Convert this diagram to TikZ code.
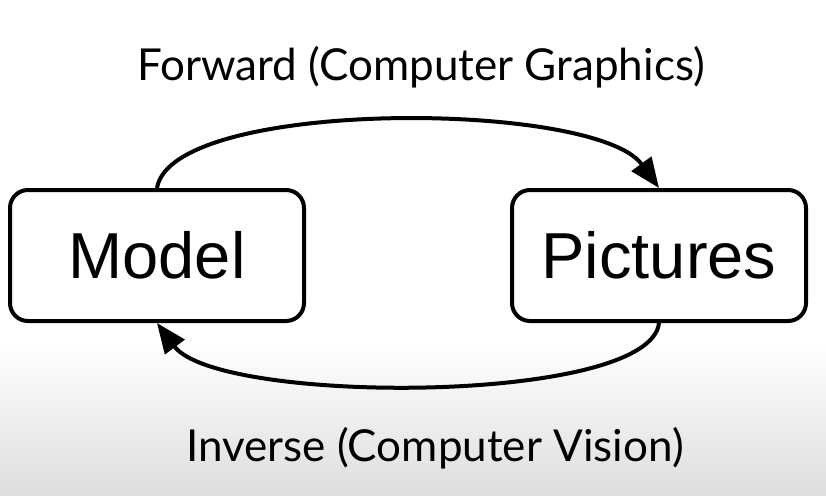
\documentclass[tikz,border=0pt]{standalone}
\usepackage{fontspec}
\setmainfont{Lato}
\newfontfamily\boxfont{Liberation Sans}
\usetikzlibrary{arrows.meta}
\begin{document}
\begin{tikzpicture}[x=1pt,y=-1pt,
  block/.style={draw=black, line width=4pt, rounded corners=18pt, fill=white,
    minimum width=294pt, minimum height=131pt, inner sep=0pt,
    font=\boxfont\fontsize{65}{70}\selectfont},
  label/.style={font=\fontsize{44}{48}\selectfont, anchor=base, inner sep=0pt},
  conn/.style={line width=4pt, -{Triangle[length=30pt,width=24pt]}}]
\useasboundingbox (0,0) rectangle (826,495);
\fill[white] (0,0) rectangle (826,341);
\shade[top color=white, bottom color=black!13] (0,340) rectangle (826,495);
\node[block] (model) at (157,255.5) {Model};
\node[block] (pictures) at (659,255.5) {Pictures};
\node[label] (fwd) at (421,80) {Forward (Computer Graphics)};
\node[label] (inv) at (435,461) {Inverse (Computer Vision)};
\draw[conn] (model.north) .. controls (172,98) and (595,100) .. (pictures.north);
\draw[conn] (pictures.south) .. controls (650,405) and (218,405) .. (model.south);
\end{tikzpicture}
\end{document}
